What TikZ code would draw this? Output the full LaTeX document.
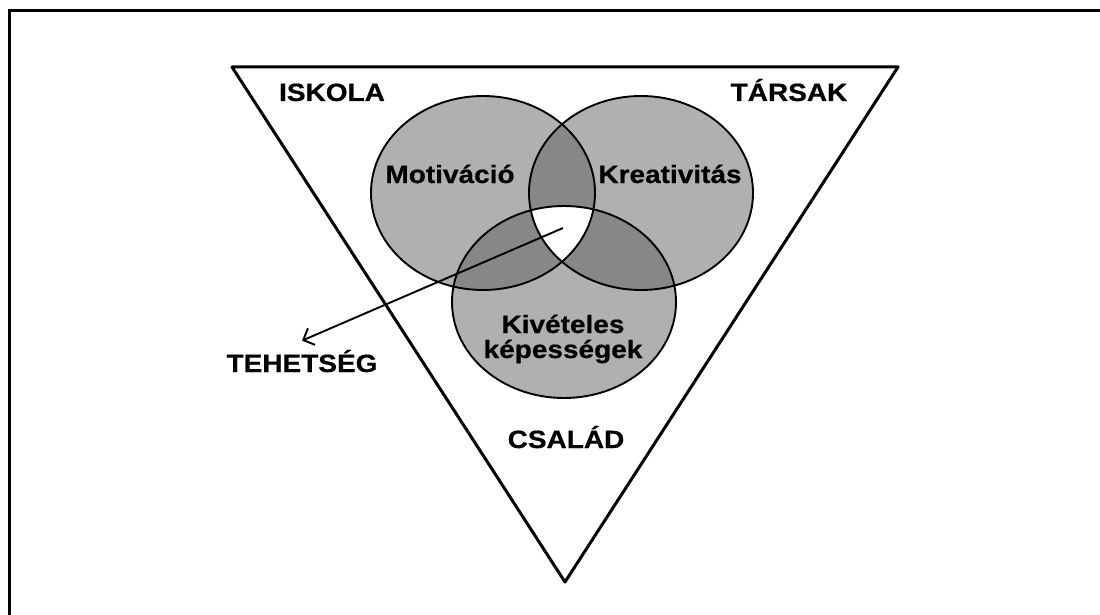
\documentclass[tikz,border=0pt]{standalone}
\usepackage{fontspec}
\newfontfamily\labfont{Liberation Sans}[FakeStretch=1.12,FakeBold=0.6]
\usetikzlibrary{arrows.meta}
\newcommand\ellMot{(483,193) ellipse [x radius=112, y radius=97]}
\newcommand\ellKre{(641,193) ellipse [x radius=112, y radius=97]}
\newcommand\ellKep{(564,302) ellipse [x radius=112, y radius=96]}
\begin{document}
\begin{tikzpicture}[x=1pt,y=-1pt]
	% Style des étiquettes
	\tikzset{ etiq/.style={font=\labfont\bfseries\fontsize{25}{25}\selectfont, inner sep=0pt, align=center, anchor=base},
		bord/.style={line width=1.9pt} }
	\useasboundingbox (0,0) rectangle (1100,615);
	\draw[line width=3pt] (9,615) -- (9,11) -- (1100,11);
	\draw[line width=3pt, line join=round] (232,67) -- (898,67) -- (565,582) -- cycle;
	\fill[gray!62] \ellMot;
	\fill[gray!62] \ellKre;
	\fill[gray!62] \ellKep;
	\begin{scope}
		\clip \ellMot;
		\fill[black!47] \ellKre;
		\fill[black!47] \ellKep;
	\end{scope}
	\begin{scope}
		\clip \ellKre;
		\fill[black!47] \ellKep;
	\end{scope}
	\begin{scope}
		\clip \ellMot; \clip \ellKre;
		\fill[white] \ellKep;
	\end{scope}
	\draw[bord] \ellMot;
	\draw[bord] \ellKre;
	\draw[bord] \ellKep;
	\node[etiq] (iskola) at (332,101) {ISKOLA};
	\node[etiq] (tarsak) at (789,101) {TÁRSAK};
	\node[etiq] (motiv) at (450,183) {Motiváció};
	\node[etiq] (kreat) at (670,183) {Kreativitás};
	\node[etiq] (kepes) at (563,358) {Kivételes\\képességek};
	\node[etiq] (csalad) at (566,448) {CSALÁD};
	\node[etiq] (teh) at (302,372) {TEHETSÉG};
	\coordinate (coeur) at (563,228);
	\draw[line width=1.9pt, -{Straight Barb[length=9pt,width=18pt]}] (coeur) -- ([yshift=9pt]teh.north);
\end{tikzpicture}
\end{document}
